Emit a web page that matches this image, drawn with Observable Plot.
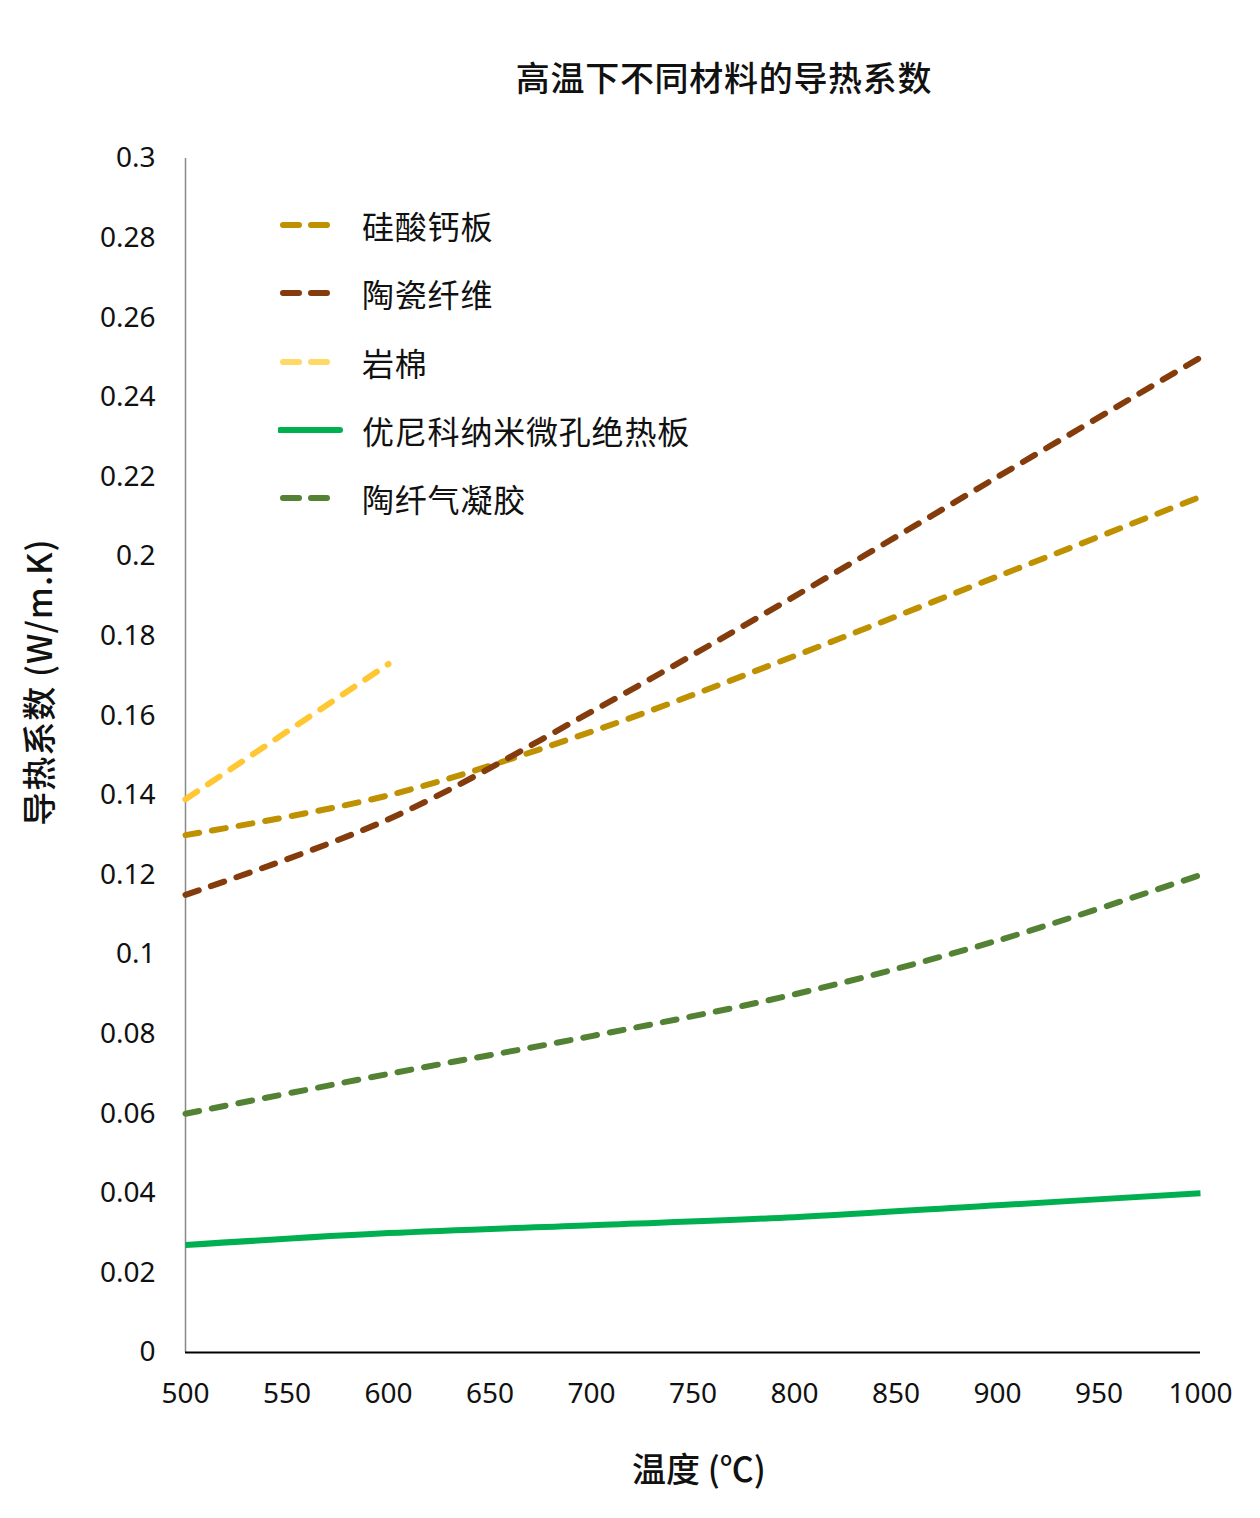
<!DOCTYPE html>
<html>
<head>
<meta charset="utf-8">
<script src="https://cdn.jsdelivr.net/npm/d3@7"></script>
<script src="https://cdn.jsdelivr.net/npm/@observablehq/plot@0.6"></script>
<style>
  html, body { margin: 0; padding: 0; background: #fff; }
  #wrap { position: relative; width: 1260px; height: 1518px; font-family: "Noto Sans", "Noto Sans CJK SC", sans-serif; color: #111; }
  #title { position: absolute; left: 724px; top: 54px; transform: translateX(-50%); white-space: nowrap; font-family: "Noto Sans CJK SC", sans-serif; font-size: 34px; letter-spacing: 0.7px; font-weight: 500; line-height: 46px; }
  #chart { position: absolute; left: 0; top: 110px; }
  #xtitle { position: absolute; left: 699px; top: 1445px; transform: translateX(-50%); white-space: nowrap; font-family: "Noto Sans CJK SC", sans-serif; font-size: 34px; font-weight: 500; line-height: 46px; }
  #ytitle { position: absolute; left: 38px; top: 682px; transform: translate(-50%, -50%) rotate(-90deg); white-space: nowrap; font-family: "Noto Sans CJK SC", sans-serif; font-size: 34px; font-weight: 500; letter-spacing: 1px; line-height: 46px; }
  #legend { position: absolute; left: 278px; top: 191px; }
  .item { display: flex; align-items: center; height: 68.3px; }
  .item svg { width: 84px; height: 20px; }
  .item span { font-family: "Noto Sans CJK SC", sans-serif; font-size: 32px; letter-spacing: 0.8px; white-space: nowrap; }
</style>
</head>
<body>
<div id="wrap">
  <div id="title">高温下不同材料的导热系数</div>
  <div id="chart"></div>
  <div id="legend"></div>
  <div id="ytitle">导热系数 (W/m.K)</div>
  <div id="xtitle">温度 (℃)</div>
</div>
<script>
// ---- data ----
const temps = [500, 600, 700, 800, 900, 1000];
const calciumSilicate = [0.130, 0.140, 0.156, 0.175, 0.195, 0.215];   // 硅酸钙板
const ceramicFiber    = [0.115, 0.134, 0.161, 0.190, 0.220, 0.250];   // 陶瓷纤维
const rockWoolTemps   = [500, 600];
const rockWool        = [0.139, 0.173];                               // 岩棉
const nanoBoard       = [0.027, 0.030, 0.032, 0.034, 0.037, 0.040];   // 优尼科纳米微孔绝热板
const aerogel         = [0.060, 0.070, 0.0795, 0.090, 0.1035, 0.120]; // 陶纤气凝胶

const xTicks = [500, 550, 600, 650, 700, 750, 800, 850, 900, 950, 1000];
const yTicks = [0, 0.02, 0.04, 0.06, 0.08, 0.1, 0.12, 0.14, 0.16, 0.18, 0.2, 0.22, 0.24, 0.26, 0.28, 0.3];

const seriesNames = ["硅酸钙板", "陶瓷纤维", "岩棉", "优尼科纳米微孔绝热板", "陶纤气凝胶"];
const lineColors  = ["#BF9000", "#843C0C", "#FFC732", "#00B050", "#548235"];
const legendColors = ["#BF9000", "#843C0C", "#FFD966", "#00B050", "#548235"];
const dashed      = [true, true, true, false, true];

const toRows = (xs, ys, name) => xs.map((t, i) => ({ t, v: ys[i], name }));
const series = [
  toRows(temps, calciumSilicate, seriesNames[0]),
  toRows(temps, ceramicFiber, seriesNames[1]),
  toRows(rockWoolTemps, rockWool, seriesNames[2]),
  toRows(temps, nanoBoard, seriesNames[3]),
  toRows(temps, aerogel, seriesNames[4])
];

const fmtY = d => String(+d.toFixed(2));
const fmtX = d => String(d);

const lineMarks = series.map((rows, i) => Plot.line(rows, {
  x: "t", y: "v",
  stroke: lineColors[i],
  strokeWidth: 6,
  strokeDasharray: dashed[i] ? "14,13" : null,
  strokeLinecap: dashed[i] ? "round" : "butt",
  curve: "catmull-rom"
}));

const chart = Plot.plot({
  width: 1260,
  height: 1408,
  marginLeft: 185,
  marginRight: 60,
  marginTop: 48,
  marginBottom: 166,
  style: { fontFamily: "'Noto Sans', 'Noto Sans CJK SC', sans-serif", fontSize: "28px", color: "#111", background: "#fff" },
  x: { domain: [500, 1000], ticks: xTicks, tickSize: 0, tickPadding: 31, tickFormat: fmtX, label: null },
  y: { domain: [0, 0.3], ticks: yTicks, tickSize: 0, tickPadding: 30, tickFormat: fmtY, label: null },
  marks: [
    Plot.ruleX([500], { stroke: "#888", strokeWidth: 1.5 }),
    ...lineMarks,
    Plot.ruleY([0], { stroke: "#000", strokeWidth: 2 })
  ]
});
document.getElementById("chart").appendChild(chart);

// ---- legend ----
const legend = document.getElementById("legend");
seriesNames.forEach((name, i) => {
  const item = document.createElement("div");
  item.className = "item";
  const sw = dashed[i]
    ? `<svg viewBox="0 0 84 20"><line x1="5" y1="10" x2="51" y2="10" stroke="${legendColors[i]}" stroke-width="6" stroke-linecap="round" stroke-dasharray="16,12"/></svg>`
    : `<svg viewBox="0 0 84 20"><line x1="2" y1="10" x2="62" y2="10" stroke="${legendColors[i]}" stroke-width="6" stroke-linecap="round"/></svg>`;
  item.innerHTML = sw + `<span>${name}</span>`;
  legend.appendChild(item);
});
</script>
</body>
</html>
